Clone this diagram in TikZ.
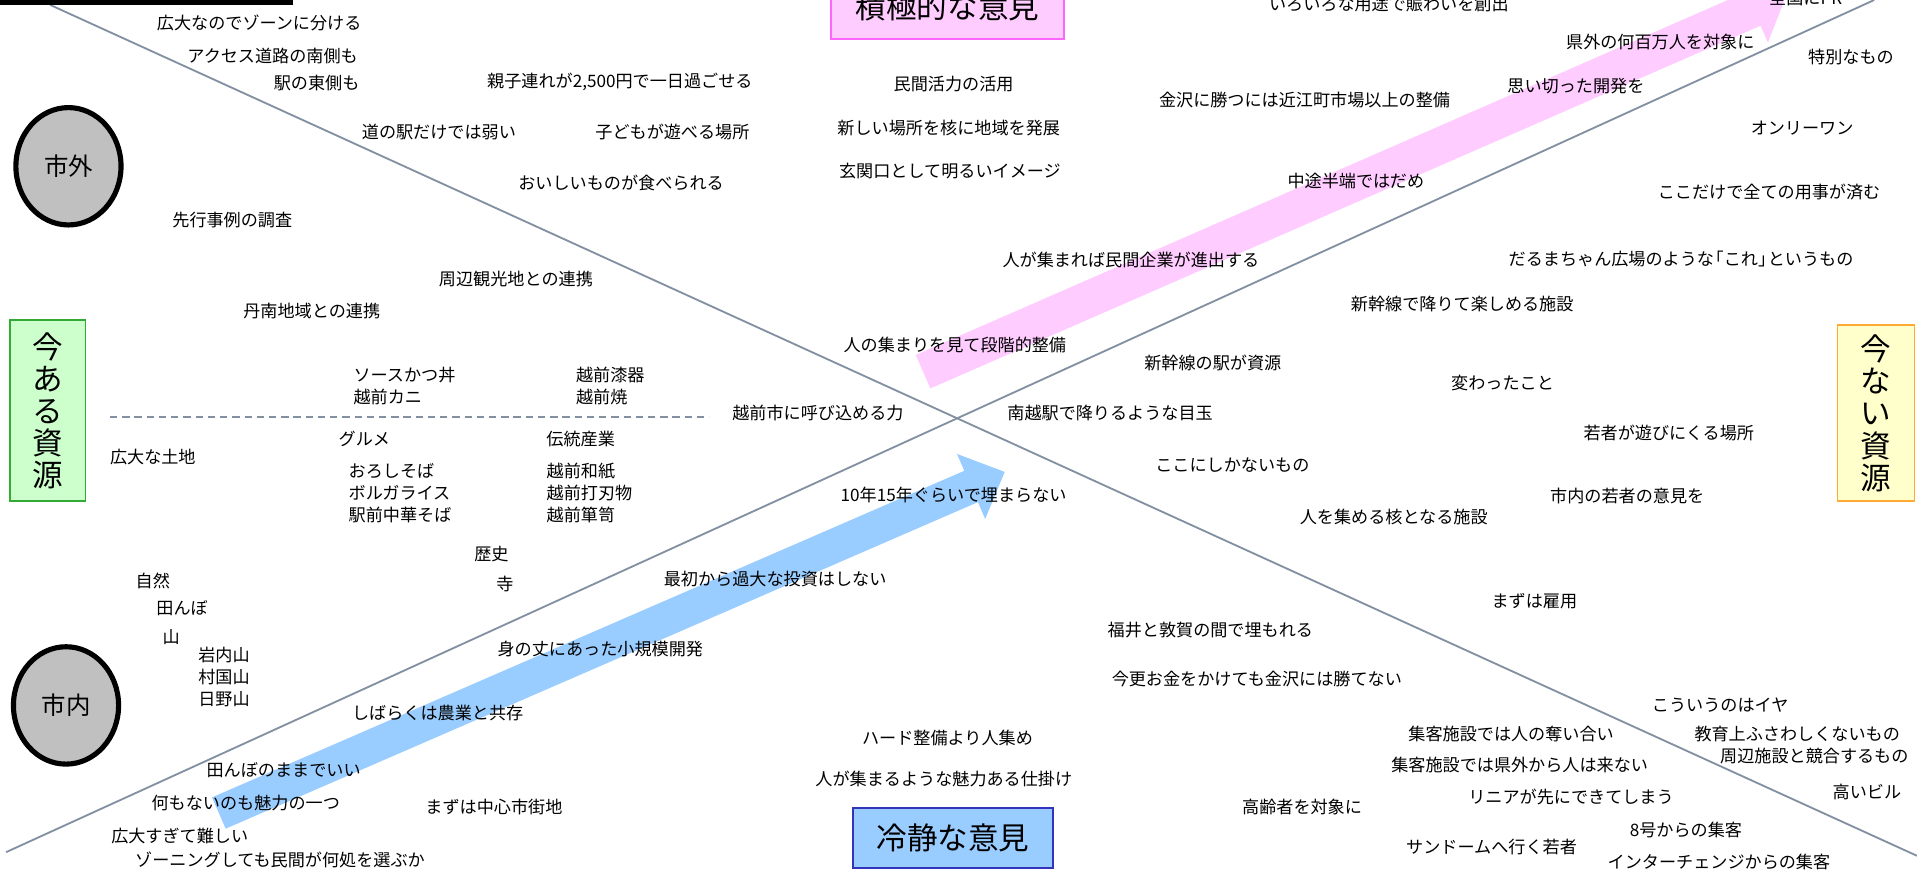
\documentclass[tikz,border=0pt]{standalone}
\usepackage{fontspec}
\newfontfamily\jp{Noto Sans CJK JP}
\usetikzlibrary{shapes.geometric}
\definecolor{linegray}{HTML}{8390A2}
\definecolor{pinkfill}{HTML}{FFCCFF}
\definecolor{pinkdraw}{HTML}{FF66FF}
\definecolor{bluefill}{HTML}{99CCFF}
\definecolor{bluedraw}{HTML}{3333BB}
\definecolor{greenfill}{HTML}{CCFFCC}
\definecolor{greendraw}{HTML}{33AA33}
\definecolor{yellowfill}{HTML}{FFFFCC}
\definecolor{orangedraw}{HTML}{FFAA33}
\definecolor{circlegray}{HTML}{C0C0C0}
\begin{document}
\begin{tikzpicture}[x=1pt,y=-1pt,
  txt/.style={inner sep=0pt, font=\jp\fontsize{14}{18}\selectfont},
  txtl/.style={txt, align=left, anchor=west},
  hbox/.style={draw, line width=1.5pt, inner sep=0pt, font=\jp\fontsize{25}{26}\selectfont},
  vbox/.style={draw, line width=1.5pt, inner sep=0pt, align=center, font=\jp\fontsize{25}{26.3}\selectfont},
  place/.style={ellipse, draw=black, line width=4.2pt, fill=circlegray, minimum width=86pt, minimum height=96pt, inner sep=0pt, font=\jp\fontsize{20}{21}\selectfont},
  axisline/.style={draw=linegray, line width=1.5pt},
  dashline/.style={draw=linegray, line width=1.2pt, dash pattern=on 6pt off 4pt},
  bandblue/.style={fill=bluefill, draw=none},
  bandpink/.style={fill=pinkfill, draw=none}
]
\useasboundingbox (0,0) rectangle (1568,712);
\clip (0,0) rectangle (1568,712);
\fill[white] (0,0) rectangle (1568,712);

% arrows
\fill[bandblue] (173.4,652.2) -- (788.7,385.1) -- (782.8,371.3) -- (821.8,386.0) -- (805.8,424.5) -- (799.9,410.7) -- (184.6,677.8) -- cycle;
\fill[bandpink] (749,290.3) -- (1428,-6.4) -- (1422,-20.2) -- (1461.5,-4.7) -- (1446,34.8) -- (1440,21.0) -- (761,317.7) -- cycle;

% axes
\coordinate (a1s) at (41,4);
\coordinate (a1e) at (1568,700);
\coordinate (a2s) at (5,697);
\coordinate (a2e) at (1533,0);
\coordinate (d1) at (90,341);
\coordinate (d2) at (580,341);
\draw[axisline] (a1s) -- (a1e);
\draw[axisline] (a2s) -- (a2e);
\draw[dashline] (d1) -- (d2);
\fill[black] (0,-10) rectangle (240,4);

% boxes
\node[hbox, fill=pinkfill, draw=pinkdraw, minimum width=190pt, minimum height=52pt] (pos) at (775,6) {積極的な意見};
\node[hbox, fill=bluefill, draw=bluedraw, minimum width=163pt, minimum height=49pt] (calm) at (779.5,685.5) {冷静な意見};
\node[vbox, fill=greenfill, draw=greendraw, minimum width=62pt, minimum height=148pt] (have) at (39,336) {今\\あ\\る\\資\\源};
\node[vbox, fill=yellowfill, draw=orangedraw, minimum width=63pt, minimum height=144pt] (nothave) at (1534.5,338) {今\\な\\い\\資\\源};
\node[place] (outside) at (56,136) {市外};
\node[place] (inside) at (54,577) {市内};

% texts upper left
\node[txt] (t1) at (212,19) {広大なのでゾーンに分ける};
\node[txt] (t2) at (223,46) {アクセス道路の南側も};
\node[txt] (t3) at (259,68) {駅の東側も};
\node[txt] (t4) at (507,67) {親子連れが2,500円で一日過ごせる};
\node[txt] (t5) at (359,108) {道の駅だけでは弱い};
\node[txt] (t6) at (550,108) {子どもが遊べる場所};
\node[txt] (t7) at (508,150) {おいしいものが食べられる};
\node[txt] (t8) at (190,180) {先行事例の調査};
\node[txt] (t9) at (422,228) {周辺観光地との連携};
\node[txt] (t10) at (255,254) {丹南地域との連携};
\node[txtl] (t11) at (289,316) {ソースかつ丼\\越前カニ};
\node[txtl] (t12) at (471,316) {越前漆器\\越前焼};
\node[txt] (t13) at (669,338) {越前市に呼び込める力};
\node[txt] (t14) at (298,359) {グルメ};
\node[txt] (t15) at (475,359) {伝統産業};
\node[txt] (t16) at (125,374) {広大な土地};
\node[txtl] (t17) at (285,403) {おろしそば\\ボルガライス\\駅前中華そば};
\node[txtl] (t18) at (447,403) {越前和紙\\越前打刃物\\越前箪笥};
\node[txt] (t19) at (402,453) {歴史};
\node[txt] (t20) at (413,478) {寺};
\node[txt] (t21) at (125,475) {自然};
\node[txt] (t22) at (149,497) {田んぼ};
\node[txt] (t23) at (140,521) {山};
\node[txtl] (t24) at (162,554) {岩内山\\村国山\\日野山};

% lower left
\node[txt] (t25) at (358,583) {しばらくは農業と共存};
\node[txt] (t26) at (491,531) {身の丈にあった小規模開発};
\node[txt] (t27) at (634,474) {最初から過大な投資はしない};
\node[txt] (t28) at (780,405) {10年15年ぐらいで埋まらない};
\node[txt] (t29) at (232,630) {田んぼのままでいい};
\node[txt] (t30) at (201,657) {何もないのも魅力の一つ};
\node[txt] (t31) at (404,660) {まずは中心市街地};
\node[txt] (t32) at (147,684) {広大すぎて難しい};
\node[txt] (t33) at (229,703) {ゾーニングしても民間が何処を選ぶか};

% center
\node[txt] (t34) at (780,69) {民間活力の活用};
\node[txt] (t35) at (776,105) {新しい場所を核に地域を発展};
\node[txt] (t36) at (777,140) {玄関口として明るいイメージ};
\node[txt] (t37) at (925,213) {人が集まれば民間企業が進出する};
\node[txt] (t38) at (781,282) {人の集まりを見て段階的整備};
\node[txt] (t39) at (908,338) {南越駅で降りるような目玉};
\node[txt] (t40) at (992,297) {新幹線の駅が資源};
\node[txt] (t41) at (1008,380) {ここにしかないもの};
\node[txt] (t42) at (1140,423) {人を集める核となる施設};
\node[txt] (t43) at (775,604) {ハード整備より人集め};
\node[txt] (t44) at (772,637) {人が集まるような魅力ある仕掛け};

% upper right
\node[txt] (t45) at (1136,3) {いろいろな用途で賑わいを創出};
\node[txt] (t46) at (1358,34) {県外の何百万人を対象に};
\node[txt] (t47) at (1514,47) {特別なもの};
\node[txt] (t48) at (1289,70) {思い切った開発を};
\node[txt] (t49) at (1067,82) {金沢に勝つには近江町市場以上の整備};
\node[txt] (t50) at (1474,105) {オンリーワン};
\node[txt] (t51) at (1109,148) {中途半端ではだめ};
\node[txt] (t52) at (1447,157) {ここだけで全ての用事が済む};
\node[txt] (t53) at (1375,212) {だるまちゃん広場のような\kern-6pt「これ」\kern-6pt というもの};
\node[txt] (t54) at (1196,249) {新幹線で降りて楽しめる施設};
\node[txt] (t55) at (1229,313) {変わったこと};
\node[txt] (t56) at (1365,354) {若者が遊びにくる場所};
\node[txt] (t57) at (1331,406) {市内の若者の意見を};
\node[txt] (t58) at (1477,-2) {全国にPR};

% lower right
\node[txt] (t59) at (1255,492) {まずは雇用};
\node[txt] (t60) at (990,515) {福井と敦賀の間で埋もれる};
\node[txt] (t61) at (1028,555) {今更お金をかけても金沢には勝てない};
\node[txt] (t62) at (1407,577) {こういうのはイヤ};
\node[txt] (t63) at (1470,600) {教育上ふさわしくないもの};
\node[txt] (t64) at (1484,618) {周辺施設と競合するもの};
\node[txt] (t65) at (1236,600) {集客施設では人の奪い合い};
\node[txt] (t66) at (1243,626) {集客施設では県外から人は来ない};
\node[txt] (t67) at (1285,652) {リニアが先にできてしまう};
\node[txt] (t68) at (1527,648) {高いビル};
\node[txt] (t69) at (1065,660) {高齢者を対象に};
\node[txt] (t70) at (1379,679) {8号からの集客};
\node[txt] (t71) at (1220,693) {サンドームへ行く若者};
\node[txt] (t72) at (1406,705) {インターチェンジからの集客};
\end{tikzpicture}
\end{document}
